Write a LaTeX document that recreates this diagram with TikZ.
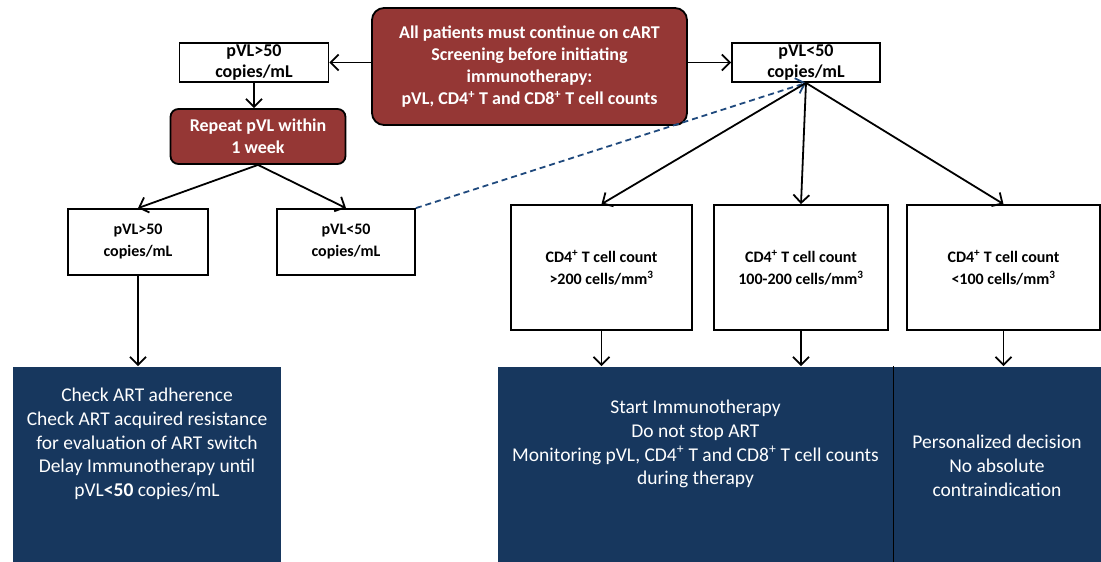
\documentclass[tikz,border=0pt]{standalone}
\usepackage{fontspec}
\setmainfont{Carlito}
\usetikzlibrary{positioning,arrows.meta}
\definecolor{boxred}{RGB}{149,55,53}
\definecolor{boxblue}{RGB}{23,55,94}
\definecolor{dashblue}{RGB}{31,73,125}

\begin{document}
\begin{tikzpicture}[x=1pt,y=-1pt,line width=1.8pt,
                    >={Straight Barb[length=8pt,width=16pt]},
                    red node/.style={rectangle,rounded corners=12pt,draw,fill=boxred,text=white,
                      font=\bfseries\fontsize{18}{22}\selectfont,align=center,inner sep=0pt},
                    white node/.style={rectangle,draw,fill=white,
                      font=\bfseries\fontsize{15}{22}\selectfont,align=center,inner sep=0pt},
                    blue node/.style={rectangle,fill=boxblue,inner sep=0pt},
                    blue text/.style={text=white,font=\fontsize{19.5}{23.75}\selectfont,align=center,inner sep=0pt}]
  \useasboundingbox (0,0) rectangle (1101,562);

  \node[red node,minimum width=315pt,minimum height=117pt] (main) at (529.5,66.5)
    {All patients must continue on cART\\Screening before initiating\\immunotherapy:\\
     pVL, CD4\textsuperscript{+} T and CD8\textsuperscript{+} T cell counts};
  \node[white node,font=\bfseries\fontsize{18}{21}\selectfont,minimum width=149pt,minimum height=39pt] (ltop) at (254,62.5)
    {pVL>50\\copies/mL};
  \node[white node,font=\bfseries\fontsize{18}{21}\selectfont,minimum width=148pt,minimum height=39pt] (rtop) at (806,62.5)
    {pVL<50\\copies/mL};
  \node[red node,rounded corners=8pt,minimum width=175pt,minimum height=55pt] (rpt) at (258,136.5)
    {Repeat pVL within\\1 week};
  \node[white node,font=\bfseries\fontsize{16}{22}\selectfont,minimum width=140pt,minimum height=66pt] (lhi) at (138,242)
    {pVL>50\\copies/mL};
  \node[white node,font=\bfseries\fontsize{16}{22}\selectfont,minimum width=138pt,minimum height=66pt] (llo) at (346,242)
    {pVL<50\\copies/mL};

  \node[white node,font=\bfseries\fontsize{16}{22}\selectfont,minimum width=181pt,minimum height=125pt] (cda) at (601.5,267.5)
    {CD4\textsuperscript{+} T cell count\\>200 cells/mm\textsuperscript{3}};
  \node[white node,font=\bfseries\fontsize{16}{22}\selectfont,minimum width=174pt,minimum height=125pt] (cdb) at (801,267.5)
    {CD4\textsuperscript{+} T cell count\\100-200 cells/mm\textsuperscript{3}};
  \node[white node,font=\bfseries\fontsize{16}{22}\selectfont,minimum width=193pt,minimum height=125pt] (cdc) at (1003.5,267.5)
    {CD4\textsuperscript{+} T cell count\\<100 cells/mm\textsuperscript{3}};

  % bottom panels
  \node[blue node,minimum width=268pt,minimum height=195pt] (chk) at (147,464.5) {};
  \node[blue node,minimum width=395pt,minimum height=195pt] (treat) at (695.5,464.5) {};
  \node[blue node,minimum width=208pt,minimum height=195pt] (pers) at (997,464.5) {};
  \draw[line width=1pt] (treat.north east) -- (treat.south east);

  \node[blue text,below=21pt of chk.north] (chktxt)
    {Check ART adherence\\Check ART acquired resistance\\for evaluation of ART switch\\
     Delay Immunotherapy until\\pVL\textbf{<50} copies/mL};
  \node[blue text,below=33pt of treat.north] (treattxt)
    {Start Immunotherapy\\Do not stop ART\\
     Monitoring pVL, CD4\textsuperscript{+} T and CD8\textsuperscript{+} T cell counts\\during therapy};
  \node[blue text,below=68pt of pers.north] (perstxt)
    {Personalized decision\\No absolute\\contraindication};

  % connectors
  \draw[->] (main.west |- ltop.east) -- (ltop.east);
  \draw[->] (main.east |- rtop.west) -- (rtop.west);
  \draw[->] (ltop.south) -- (ltop.south |- rpt.north);
  \draw[->] (rpt.south) -- (lhi.north);
  \draw[->] (rpt.south) -- (llo.north);
  \draw[->] (lhi.south) -- (lhi.south |- chk.north);
  \draw[->,dashblue,dash pattern=on 6pt off 4pt] (llo.north east) -- (rtop.south);
  \draw[->] (rtop.south) -- (cda.north);
  \draw[->] (rtop.south) -- (cdb.north);
  \draw[->] (rtop.south) -- (cdc.north);
  \draw[->] (cda.south) -- (cda.south |- treat.north);
  \draw[->] (cdb.south) -- (cdb.south |- treat.north);
  \draw[->] (cdc.south) -- (cdc.south |- pers.north);

\end{tikzpicture}
\end{document}
